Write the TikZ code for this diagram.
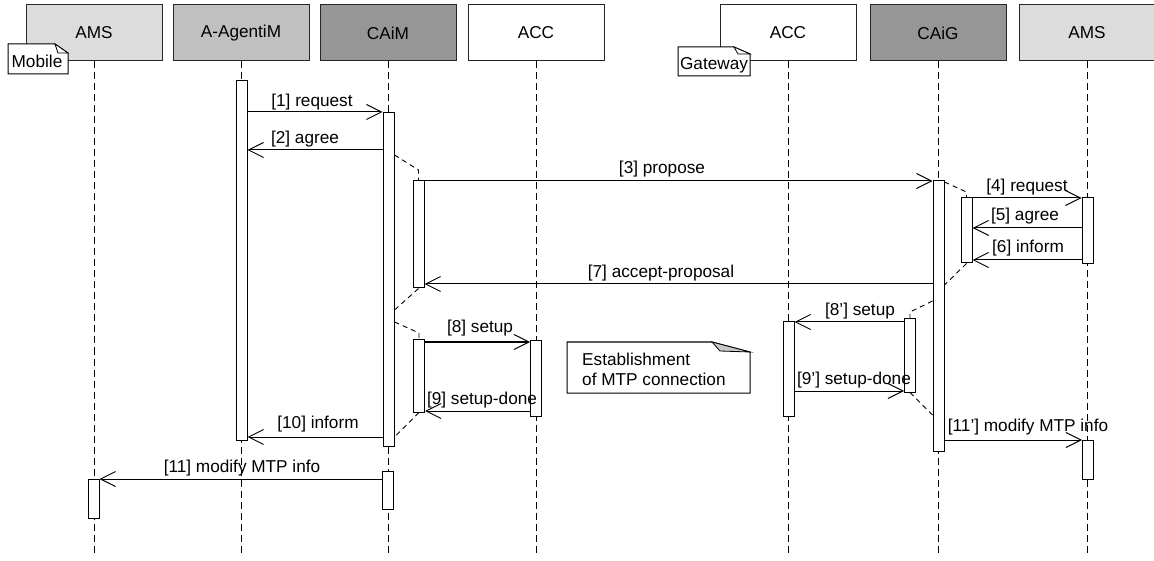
\documentclass[tikz,border=0pt]{standalone}
\usepackage{fontspec}
\setmainfont{Liberation Sans}
\usetikzlibrary{arrows.meta}
\definecolor{amsc}{HTML}{DCDCDC}
\definecolor{agc}{HTML}{C0C0C0}
\definecolor{cac}{HTML}{969696}
\definecolor{foldc}{HTML}{C8C8C8}
\newcommand\actbar[4]{\node[actbox,minimum height={#4-#3}] (#1) at (#2,{(#3+#4)/2}) {};}
\begin{document}
\begin{tikzpicture}[x=1pt,y=-1pt,
  font=\fontsize{17.2}{20}\selectfont,
  head/.style={draw=black!85, line width=1pt, minimum width=136pt, minimum height=56pt, inner sep=0pt},
  life/.style={dash pattern=on 7pt off 4pt, line width=1pt},
  actbox/.style={draw, fill=white, line width=1pt, minimum width=11pt, inner sep=0pt},
  msg/.style={line width=1pt, -{Straight Barb[length=15pt,width=15pt]}},
  lbl/.style={inner sep=0pt, text height=12.5pt, text depth=3.6pt},
  link/.style={dash pattern=on 5pt off 4pt, line width=0.9pt},
  notebox/.style={draw, line width=1pt, fill=white},
  ]
\useasboundingbox (0,0) rectangle (1154,561);
% headers
\node[head, fill=amsc] (hAMS1) at (94,33) {AMS};
\node[head, fill=agc]  (hAG)   at (241,33) {A-AgentiM};
\node[head, fill=cac]  (hCAiM) at (388,33) {CAiM};
\node[head, fill=white](hACC1) at (536,33) {ACC};
\node[head, fill=white](hACC2) at (788,33) {ACC};
\node[head, fill=cac]  (hCAiG) at (938,33) {CAiG};
\node[head, fill=amsc] (hAMS2) at (1087,33) {AMS};
% lifelines
\foreach \h/\x in {hAMS1/94,hAG/241,hCAiM/388,hACC1/536,hACC2/788,hCAiG/938,hAMS2/1087}{
  \coordinate (e\h) at (\x,556);
  \draw[life] (\h) -- (e\h);
}
% activation bars
\actbar{bA}{241.5}{81}{440}
\actbar{bC1}{388.5}{113}{446}
\actbar{bC2}{418.5}{181}{288}
\actbar{bC3}{419}{340}{412}
\actbar{bC4}{387.5}{471}{509}
\actbar{bACCa}{536}{341}{416}
\actbar{bACCb}{788.5}{322}{416}
\actbar{bG1}{938.5}{181}{451}
\actbar{bG2}{966.5}{198}{263}
\actbar{bG3}{910}{319}{392}
\actbar{bM1}{1087.5}{198}{264}
\actbar{bM2}{1088}{440}{479}
\actbar{bL}{93.5}{479}{518}
% activation links
\draw[link] (bC1.east|-0,155) -- (bC2.north|-0,170) -- (bC2.north);
\draw[link] (bC2.south) -- (bC1.east|-0,310);
\draw[link] (bC1.east|-0,322) -- (bC3.north|-0,333) -- (bC3.north);
\draw[link] (bC3.south) -- (bC1.east|-0,437);
\draw[link] (bG1.east|-0,182) -- (bG2.north|-0,192) -- (bG2.north);
\draw[link] (bG2.south) -- (bG1.east|-0,285);
\draw[link] (bG1.west|-0,301) -- (bG3.north|-0,312) -- (bG3.north);
\draw[link] (bG3.south) -- (bG1.west|-0,415);
% messages
\draw[msg] (bA.east|-0,112) -- (bC1.west|-0,112);
\draw[msg] (bC1.west|-0,150) -- (bA.east|-0,150);
\draw[msg] (bC2.east|-0,181) -- (bG1.west|-0,181);
\draw[msg] (bG2.east|-0,198) -- (bM1.west|-0,198);
\draw[msg] (bM1.west|-0,228) -- (bG2.east|-0,228);
\draw[msg] (bM1.west|-0,260) -- (bG2.east|-0,260);
\draw[msg] (bG1.west|-0,284) -- (bC2.east|-0,284);
\draw[msg] (bC3.east|-0,342) -- (bACCa.west|-0,342);
\draw[msg] (bACCa.west|-0,411) -- (bC3.east|-0,411);
\draw[msg] (bG3.west|-0,322) -- (bACCb.east|-0,322);
\draw[msg] (bACCb.east|-0,391) -- (bG3.west|-0,391);
\draw[msg] (bC1.west|-0,437) -- (bA.east|-0,437);
\draw[msg] (bC4.west|-0,479) -- (bL.east|-0,479);
\draw[msg] (bG1.east|-0,440) -- (bM2.west|-0,440);
% message labels
\node[lbl] (l1) at (312,102) {[1] request};
\node[lbl] (l2) at (305,139) {[2] agree};
\node[lbl] (l3) at (662,169) {[3] propose};
\node[lbl] (l4) at (1027,187) {[4] request};
\node[lbl] (l5) at (1025,216) {[5] agree};
\node[lbl] (l6) at (1028,248) {[6] inform};
\node[lbl] (l7) at (661,273) {[7] accept-proposal};
\node[lbl] (l8) at (480,328) {[8] setup};
\node[lbl] (l9) at (482,400) {[9] setup-done};
\node[lbl] (l8p) at (860,311) {[8'] setup};
\node[lbl] (l9p) at (854,380) {[9'] setup-done};
\node[lbl] (l10) at (318,424) {[10] inform};
\node[lbl] (l11) at (242,468) {[11] modify MTP info};
\node[lbl] (l11p) at (1028,427) {[11'] modify MTP info};
% notes
\draw[notebox] (8,44) -- (55,44) -- (68,53) -- (68,74) -- (8,74) -- cycle;
\draw[line width=0.8pt, fill=white] (55,44) -- (58,53) -- (68,53) -- cycle;
\node[lbl] (nMobile) at (37,63) {Mobile};
\draw[notebox] (678,47) -- (734,47) -- (750,54) -- (750,76) -- (678,76) -- cycle;
\draw[line width=0.8pt, fill=white] (734,47) -- (738,54) -- (750,54) -- cycle;
\node[lbl] (nGateway) at (714,65) {Gateway};
\draw[notebox] (567,342) -- (712,342) -- (750,352) -- (750,393) -- (567,393) -- cycle;
\draw[line width=0.8pt, fill=foldc] (712,342) -- (720,351) -- (750,352) -- cycle;
\node[inner sep=0pt, align=left, anchor=north west] (nEst) at (582,353) {Establishment\\of MTP connection};
\end{tikzpicture}
\end{document}
